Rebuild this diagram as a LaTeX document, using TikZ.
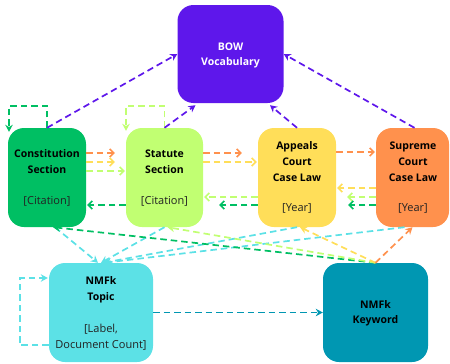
\documentclass[tikz,border=0pt]{standalone}
\usepackage{fontspec}
\setmainfont{Open Sans}
\usetikzlibrary{arrows.meta}
\definecolor{cpurple}{HTML}{5E17EB}
\definecolor{cgreen}{HTML}{00BF63}
\definecolor{clime}{HTML}{C1FF72}
\definecolor{cyellow}{HTML}{FFDE59}
\definecolor{corange}{HTML}{FF914D}
\definecolor{ccyan}{HTML}{5CE1E6}
\definecolor{cteal}{HTML}{0097B2}
\definecolor{ctext}{HTML}{222222}
\tikzset{
  box/.style={rectangle, rounded corners=16pt, inner sep=0pt, draw=none},
  ttl/.style={align=center, inner sep=0pt, text=black, font=\fontsize{10.5}{16.5}\selectfont\bfseries},
  sub/.style={align=center, inner sep=0pt, text=ctext, font=\fontsize{11}{16}\selectfont},
  conn/.style={line width=1.7pt, dash pattern=on 6.5pt off 4pt},
  tipF/.style={-{Stealth[length=7pt,width=7.5pt]}},
  tipB/.style={-{Straight Barb[length=4pt,width=8pt,line width=1.5pt]}},
}
\begin{document}
\begin{tikzpicture}[x=1pt,y=-1pt]
\useasboundingbox (0,0) rectangle (450,364);
% boxes
\node[box, fill=cpurple, minimum width=106pt, minimum height=98pt] (bow) at (230.5,54) {};
\node[box, fill=cgreen, minimum width=78pt, minimum height=99pt] (const) at (47,177.5) {};
\node[box, fill=clime, minimum width=77pt, minimum height=99pt] (statute) at (164.5,177.5) {};
\node[box, fill=cyellow, minimum width=78pt, minimum height=99pt] (appeals) at (297,177.5) {};
\node[box, fill=corange, minimum width=73pt, minimum height=99pt] (supreme) at (412.5,177.5) {};
\node[box, fill=ccyan, minimum width=104pt, minimum height=99pt] (topic) at (101,312.5) {};
\node[box, fill=cteal, minimum width=105pt, minimum height=99pt] (keyword) at (375.5,312.5) {};
% texts
\node[ttl, text=white, font=\fontsize{10.5}{15}\selectfont\bfseries] (bowT) at (230.5,55.5) {BOW\\Vocabulary};
\node[ttl] (constT) at (47,161.5) {Constitution\\Section};
\node[sub] (constS) at (47,201) {[Citation]};
\node[ttl] (statT) at (164.5,161.5) {Statute\\Section};
\node[sub] (statS) at (164.5,201) {[Citation]};
\node[ttl, font=\fontsize{10.5}{16}\selectfont\bfseries] (appT) at (297,162) {Appeals\\Court\\Case Law};
\node[sub] (appS) at (297,208) {[Year]};
\node[ttl, font=\fontsize{10.5}{16}\selectfont\bfseries] (supT) at (413,162) {Supreme\\Court\\Case Law};
\node[sub] (supS) at (413,208) {[Year]};
\node[ttl, font=\fontsize{10.5}{16}\selectfont\bfseries] (topT) at (101,290) {NMFk\\Topic};
\node[sub] (topS) at (101,337) {[Label,\\Document Count]};
\node[ttl, font=\fontsize{10.5}{15}\selectfont\bfseries] (keyT) at (375.5,313.5) {NMFk\\Keyword};
% self loops
\draw[conn, tipF, cgreen] (const.north) -- ++(0,-22) -| ([xshift=-38pt,yshift=-4pt]const.north);
\draw[conn, tipF, clime] (statute.north) -- ++(0,-22) -| ([xshift=-38.5pt,yshift=-3pt]statute.north);
\draw[conn, tipF, ccyan] ([yshift=-32.5pt]topic.west) -- ++(-29,0) |- ([yshift=34.5pt,xshift=-1pt]topic.west);
% to BOW
\draw[conn, tipF, cpurple] (const.north) -- (bow.west);
\draw[conn, tipF, cpurple] (statute.north) -- ([xshift=-35pt,yshift=-2pt]bow.south);
\draw[conn, tipF, cpurple] (appeals.north) -- ([xshift=39.5pt,yshift=-2pt]bow.south);
\draw[conn, tipF, cpurple] ([xshift=2pt]supreme.north) -- (bow.east);
% rightward rows
\draw[conn, tipB, corange] ([yshift=24.5pt]const.east) -- ([yshift=24.5pt,xshift=-11pt]statute.west);
\draw[conn, tipB, cyellow] ([yshift=15.5pt]const.east) -- ([yshift=15.5pt,xshift=-11pt]statute.west);
\draw[conn, tipB, clime] ([yshift=6.5pt]const.east) -- ([yshift=6.5pt,xshift=-1pt]statute.west);
\draw[conn, tipB, corange] ([yshift=24.5pt]statute.east) -- ([yshift=24.5pt,xshift=-16pt]appeals.west);
\draw[conn, tipB, cyellow] ([yshift=15.5pt]statute.east) -- ([yshift=15.5pt,xshift=-1pt]appeals.west);
\draw[conn, tipB, corange] ([yshift=25.5pt]appeals.east) -- ([yshift=25.5pt,xshift=-1pt]supreme.west);
% leftward rows
\draw[conn, tipB, cgreen] ([yshift=-27.5pt]statute.west) -- ([yshift=-27.5pt,xshift=1pt]const.east);
\draw[conn, tipB, clime] ([yshift=-19.5pt]appeals.west) -- ([yshift=-19.5pt,xshift=1pt]statute.east);
\draw[conn, tipB, cgreen] ([yshift=-27.5pt]appeals.west) -- ([yshift=-27.5pt,xshift=16pt]statute.east);
\draw[conn, tipB, cyellow] ([yshift=-10.5pt]supreme.west) -- ([yshift=-10.5pt,xshift=1pt]appeals.east);
\draw[conn, tipB, clime] ([yshift=-19.5pt]supreme.west) -- ([yshift=-19.5pt,xshift=11pt]appeals.east);
\draw[conn, tipB, cgreen] ([yshift=-27.5pt]supreme.west) -- ([yshift=-27.5pt,xshift=12pt]appeals.east);
% columns to topic
\draw[conn, tipF, ccyan] ([xshift=8pt]const.south) -- ([xshift=-3pt]topic.north);
\draw[conn, tipF, ccyan] (statute.south) -- (topic.north);
\draw[conn, tipF, ccyan] (appeals.south) -- ([xshift=2pt]topic.north);
\draw[conn, tipF, ccyan] ([xshift=-8pt]supreme.south) -- ([xshift=3pt]topic.north);
% keyword to columns
\draw[conn, tipF, cgreen] (keyword.north) -- ([xshift=6pt]const.south);
\draw[conn, tipF, clime] (keyword.north) -- ([xshift=3pt]statute.south);
\draw[conn, tipF, cyellow] (keyword.north) -- ([xshift=3pt]appeals.south);
\draw[conn, tipF, corange] (keyword.north) -- (supreme.south);
% topic to keyword
\draw[conn, tipF, cteal] (topic.east) -- (keyword.west);
\end{tikzpicture}
\end{document}
